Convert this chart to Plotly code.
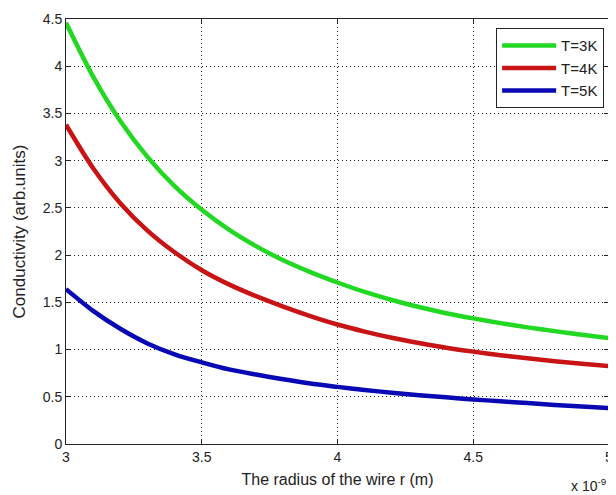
import plotly.graph_objects as go

# radius of the wire, in units of 1e-9 m
radius = [3.0, 3.1, 3.2, 3.3, 3.4, 3.5, 3.6, 3.7, 3.8, 3.9, 4.0,
          4.1, 4.2, 4.3, 4.4, 4.5, 4.6, 4.7, 4.8, 4.9, 5.0]

cond_T3 = [4.46, 3.89, 3.42, 3.04, 2.73, 2.48, 2.27, 2.095, 1.945, 1.82, 1.71,
           1.61, 1.525, 1.45, 1.385, 1.33, 1.28, 1.235, 1.195, 1.157, 1.12]
cond_T4 = [3.38, 2.92, 2.55, 2.26, 2.03, 1.84, 1.69, 1.565, 1.455, 1.355, 1.265,
           1.19, 1.125, 1.07, 1.02, 0.978, 0.94, 0.907, 0.877, 0.85, 0.825]
cond_T5 = [1.64, 1.41, 1.22, 1.065, 0.95, 0.865, 0.79, 0.735, 0.685, 0.64, 0.605,
           0.572, 0.543, 0.517, 0.494, 0.472, 0.452, 0.433, 0.414, 0.397, 0.38]

series_names = ["T=3K", "T=4K", "T=5K"]
series_colors = ["#22d822", "#c81414", "#0808b4"]

x_tickvals = [3, 3.5, 4, 4.5, 5]
x_ticktext = ["3", "3.5", "4", "4.5", "5"]
y_tickvals = [0, 0.5, 1, 1.5, 2, 2.5, 3, 3.5, 4, 4.5]
y_ticktext = ["0", "0.5", "1", "1.5", "2", "2.5", "3", "3.5", "4", "4.5"]

FONT = "Liberation Sans, Arial, sans-serif"
INK = "#222"

fig = go.Figure()
for name, ys, col in zip(series_names, [cond_T3, cond_T4, cond_T5], series_colors):
    fig.add_trace(go.Scatter(
        x=radius, y=ys, name=name, mode="lines",
        line=dict(color=col, width=4.5, shape="spline", smoothing=0.8),
    ))

axis_common = dict(
    showline=True, linecolor=INK, linewidth=1, mirror="ticks",
    ticks="inside", ticklen=5, tickcolor=INK, tickwidth=1,
    showgrid=True, gridcolor=INK, gridwidth=1, griddash="1px,3px",
    zeroline=False, tickfont=dict(family=FONT, size=14, color=INK),
    ticklabeloverflow="allow",
)

fig.update_xaxes(
    range=[3, 5], tickvals=x_tickvals, ticktext=x_ticktext,
    title=dict(text="The radius of the wire r (m)",
               font=dict(family=FONT, size=16, color=INK), standoff=10),
    **axis_common,
)
fig.update_yaxes(
    range=[0, 4.5], tickvals=y_tickvals, ticktext=y_ticktext,
    title=dict(text="Conductivity (arb.units)",
               font=dict(family=FONT, size=17, color=INK), standoff=12),
    **axis_common,
)

fig.add_annotation(
    xref="paper", yref="paper", x=1.0, y=-0.097, xanchor="right", yanchor="middle",
    xshift=-1, text="x 10<sup>-9</sup>", showarrow=False,
    font=dict(family=FONT, size=14, color=INK),
)

# the page body adds an 8px margin, so the figure is drawn 8px smaller
fig.update_layout(
    width=608, height=487,
    margin=dict(l=58, r=3, t=9, b=51),
    paper_bgcolor="white", plot_bgcolor="white",
    showlegend=True,
    legend=dict(
        x=0.991, y=0.978, xanchor="right", yanchor="top",
        bgcolor="white", bordercolor=INK, borderwidth=1,
        font=dict(family=FONT, size=15, color=INK),
        itemwidth=54,
    ),
)

fig.write_html("out.html")
